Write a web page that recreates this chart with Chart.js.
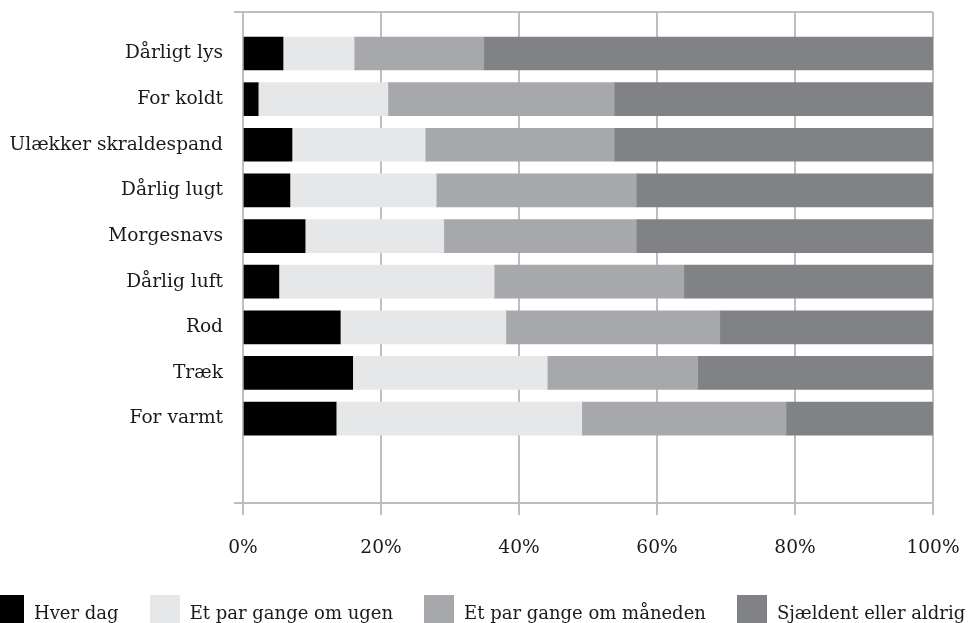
<!DOCTYPE html>
<html lang="da">
<head>
<meta charset="utf-8">
<title>Gener på arbejdspladsen</title>
<script src="https://cdn.jsdelivr.net/npm/chart.js"></script>
<style>
  body { margin: 0; background: #ffffff; }
  #wrap { position: relative; width: 976px; height: 623px; overflow: hidden; }
  #legend {
    position: absolute; left: -6px; top: 595px;
    display: flex; gap: 31px; white-space: nowrap;
    font-family: "DejaVu Serif", serif; font-size: 18px; color: #1a1a1a;
  }
  .item { display: flex; align-items: flex-start; }
  .box { width: 30px; height: 28px; margin-right: 10px; }
  .lbl { line-height: 28px; padding-top: 4px; }
</style>
</head>
<body>
<div id="wrap">
  <canvas id="barChart"></canvas>
  <div id="legend"></div>
</div>
<script>
/******************************************* Data *******************************************************************/
const categories = [
  "Dårligt lys",
  "For koldt",
  "Ulækker skraldespand",
  "Dårlig lugt",
  "Morgesnavs",
  "Dårlig luft",
  "Rod",
  "Træk",
  "For varmt",
];

const seriesNames = ["Hver dag", "Et par gange om ugen", "Et par gange om måneden", "Sjældent eller aldrig"];

// percent of answers per category
const hverDag = [5.8, 2.2, 7.1, 6.8, 9.0, 5.2, 14.1, 15.9, 13.5];
const omUgen = [10.3, 18.8, 19.3, 21.2, 20.1, 31.2, 24.0, 28.2, 35.6];
const omMaaneden = [18.8, 32.8, 27.4, 29.0, 27.9, 27.5, 31.0, 21.8, 29.6];
const sjaeldent = [65.1, 46.2, 46.2, 43.0, 43.0, 36.1, 30.9, 34.1, 21.3];

const xTicks = [0, 20, 40, 60, 80, 100];

const colors = ["#000000", "#e6e7e8", "#a7a8ab", "#818285"];
const gridColor = "#bdbec0";
const FONT = { family: "'DejaVu Serif', serif", size: 18.6 };

// category slots run from 1 (top) to 9, the axis leaves extra room below
const Y_MIN = 0.09;
const Y_MAX = 10.85;

/******************************************* Build datasets ***********************************************/
function toPoints(values) {
  return values.map((v, i) => ({ x: v, y: i + 1 }));
}

const allSeries = [hverDag, omUgen, omMaaneden, sjaeldent];
const datasets = allSeries.map((values, i) => ({
  label: seriesNames[i],
  data: toPoints(values),
  backgroundColor: colors[i],
  borderWidth: 0,
  barThickness: 33,
}));

/******************************************* Render chart ***********************************************/
const chart = new Chart(document.getElementById("barChart"), {
  type: "bar",
  data: { datasets },
  options: {
    indexAxis: "y",
    responsive: true,
    maintainAspectRatio: false,
    animation: false,
    layout: { padding: { top: 12, right: 43, bottom: 65, left: 0 } },
    plugins: {
      legend: { display: false },
      tooltip: { enabled: false },
    },
    scales: {
      x: {
        type: "linear",
        stacked: true,
        min: 0,
        max: 100,
        afterBuildTicks: (scale) => {
          scale.ticks = xTicks.map((v) => ({ value: v }));
        },
        afterFit: (scale) => {
          scale.height = 55;
          // labels may hang over the edges, the layout padding handles that
          scale.paddingLeft = 0;
          scale.paddingRight = 0;
        },
        ticks: {
          font: FONT,
          color: "#1a1a1a",
          padding: 22,
          maxRotation: 0,
          callback: (v) => v + "%",
        },
        grid: { color: gridColor, lineWidth: 2, tickLength: 12 },
        border: { color: gridColor, width: 2 },
      },
      y: {
        type: "linear",
        stacked: true,
        reverse: true,
        offset: false,
        min: Y_MIN,
        max: Y_MAX,
        afterBuildTicks: (scale) => {
          const t = [{ value: Y_MIN }];
          categories.forEach((c, i) => t.push({ value: i + 1 }));
          t.push({ value: Y_MAX });
          scale.ticks = t;
        },
        afterFit: (scale) => {
          scale.width = 243;
          scale.paddingTop = 0;
          scale.paddingBottom = 0;
        },
        ticks: {
          font: FONT,
          color: "#1a1a1a",
          padding: 11,
          autoSkip: false,
          callback: (v) => categories[v - 1] || "",
        },
        grid: {
          offset: false,
          lineWidth: 2,
          tickLength: 9,
          color: (ctx) =>
            ctx.tick && (ctx.tick.value === Y_MIN || ctx.tick.value === Y_MAX) ? gridColor : "rgba(0,0,0,0)",
        },
        border: { color: gridColor, width: 2 },
      },
    },
  },
});

/******************************************* HTML legend ***********************************************/
const legendEl = document.getElementById("legend");
chart.data.datasets.forEach((ds) => {
  const item = document.createElement("div");
  item.className = "item";
  const box = document.createElement("span");
  box.className = "box";
  box.style.background = ds.backgroundColor;
  const lbl = document.createElement("span");
  lbl.className = "lbl";
  lbl.textContent = ds.label;
  item.appendChild(box);
  item.appendChild(lbl);
  legendEl.appendChild(item);
});
</script>
</body>
</html>
